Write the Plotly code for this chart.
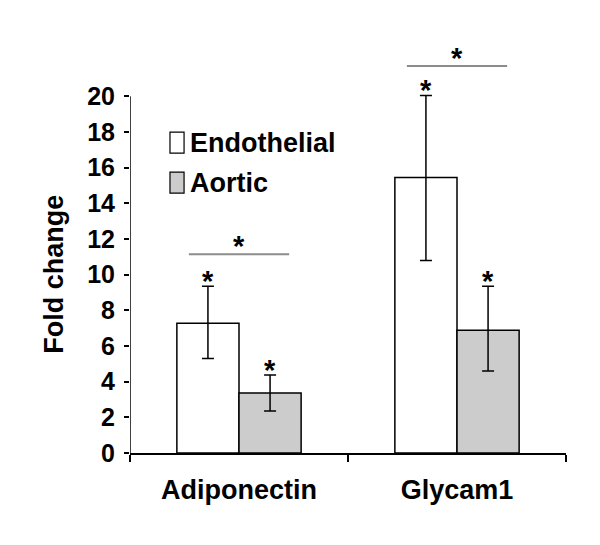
import plotly.graph_objects as go

genes = ["Adiponectin", "Glycam1"]
series_names = ["Endothelial", "Aortic"]
series_colors = ["#ffffff", "#cccccc"]

endothelial = [7.28, 15.45]
endothelial_up = [9.35, 20.05]
endothelial_low = [5.3, 10.8]

aortic = [3.36, 6.88]
aortic_up = [4.37, 9.35]
aortic_low = [2.35, 4.6]

sig_y = [11.15, 21.7]
y_ticks = [0, 2, 4, 6, 8, 10, 12, 14, 16, 18, 20]

FONT = "Liberation Sans, Arial, sans-serif"
x_pos = list(range(len(genes)))

fig = go.Figure()
for name, color, vals, up, low in [
    (series_names[0], series_colors[0], endothelial, endothelial_up, endothelial_low),
    (series_names[1], series_colors[1], aortic, aortic_up, aortic_low),
]:
    fig.add_trace(go.Bar(
        x=x_pos, y=vals, name=name,
        marker=dict(color=color, line=dict(color="black", width=1.5)),
        error_y=dict(
            type="data", symmetric=False,
            array=[u - v for u, v in zip(up, vals)],
            arrayminus=[v - l for v, l in zip(vals, low)],
            color="black", thickness=1.5, width=6,
        ),
        showlegend=False,
    ))

# stars above each error bar
offsets = [-0.1425, 0.1425]
for off, up in zip(offsets, [endothelial_up, aortic_up]):
    for i, u in enumerate(up):
        fig.add_annotation(x=i + off, y=u, text="<b>*</b>", showarrow=False,
                           yanchor="bottom", yshift=-13,
                           font=dict(size=29, family=FONT, color="black"))

# significance lines between groups
for i, sy in enumerate(sig_y):
    fig.add_shape(type="line", xref="x", yref="y", x0=i - 0.23, x1=i + 0.23,
                  y0=sy, y1=sy, line=dict(color="#8c8c8c", width=2))
    fig.add_annotation(x=i, y=sy, text="<b>*</b>", showarrow=False,
                       yanchor="bottom", yshift=-10,
                       font=dict(size=29, family=FONT, color="black"))

# y axis line only up to 20
fig.add_shape(type="line", xref="x", yref="y", x0=-0.5, x1=-0.5, y0=0, y1=y_ticks[-1],
              line=dict(color="black", width=1.5))

# y axis title, centred on the 0-20 span
fig.add_annotation(xref="paper", yref="y", x=0, y=y_ticks[-1] / 2, xshift=-76,
                   text="<b>Fold change</b>", textangle=-90, showarrow=False,
                   xanchor="center", yanchor="middle",
                   font=dict(size=27, family=FONT, color="black"))

# custom legend
legend_y = [0.770, 0.671]
for name, color, ly in zip(series_names, series_colors, legend_y):
    fig.add_shape(type="rect", xref="paper", yref="paper",
                  x0=0.0917, x1=0.124, y0=ly - 0.026, y1=ly + 0.026,
                  fillcolor=color, line=dict(color="black", width=1.2))
    fig.add_annotation(xref="paper", yref="paper", x=0.132, y=ly, text=f"<b>{name}</b>",
                       showarrow=False, xanchor="left", yanchor="middle",
                       font=dict(size=27, family=FONT, color="black"))

fig.update_layout(
    width=600, height=545,
    margin=dict(l=122, r=42, t=42, b=100),
    plot_bgcolor="white", paper_bgcolor="white",
    barmode="group", bargap=0.43, bargroupgap=0,
    font=dict(family=FONT, color="black"),
    xaxis=dict(
        range=[-0.5, 1.5], tickvals=x_pos,
        ticktext=[f"<b>{g}</b>" for g in genes],
        ticks="outside", ticklen=12, tickcolor="rgba(0,0,0,0)",
        tickfont=dict(size=27, family=FONT),
        showline=True, linecolor="black", linewidth=1.5,
        showgrid=False, zeroline=False,
        minor=dict(tickvals=[-0.5, 0.5, 1.5], ticks="outside", ticklen=7,
                   tickcolor="black", tickwidth=1.5, showgrid=False),
    ),
    yaxis=dict(
        range=[0, 22.6], tickvals=y_ticks,
        ticktext=[f"<b>{t}</b>" for t in y_ticks],
        ticks="outside", ticklen=5, tickwidth=1.5, tickcolor="black",
        ticklabelstandoff=4,
        tickfont=dict(size=25, family=FONT),
        showline=False, showgrid=False, zeroline=False,
    ),
)

fig.write_html("out.html")
